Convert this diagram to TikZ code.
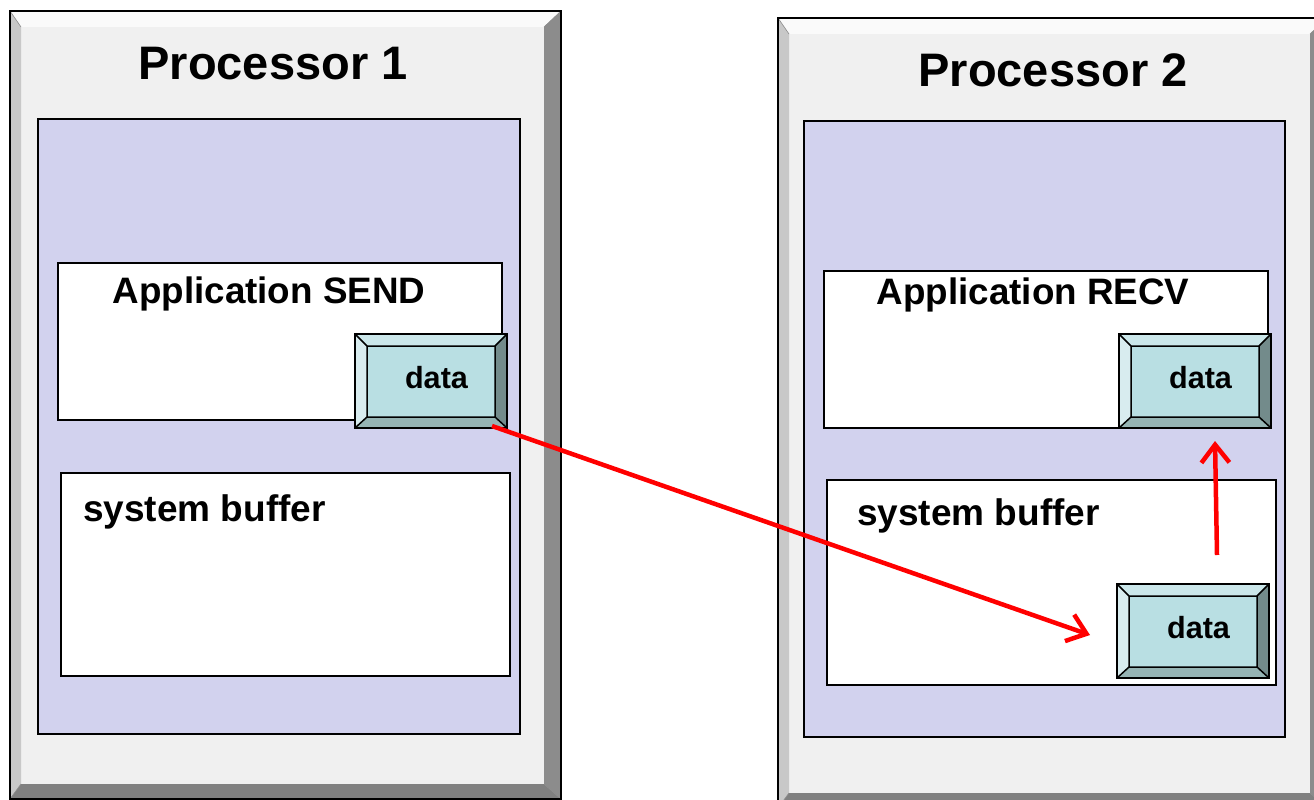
\documentclass[tikz,border=0pt]{standalone}
\usepackage{fontspec}
\setmainfont{Liberation Sans}
\usetikzlibrary{arrows.meta,calc}
\definecolor{pface}{RGB}{240,240,240}
\definecolor{ptop}{RGB}{250,250,250}
\definecolor{pleft}{RGB}{200,200,200}
\definecolor{pright}{RGB}{140,140,140}
\definecolor{pbottom}{RGB}{128,128,128}
\definecolor{lav}{RGB}{210,210,238}
\definecolor{dface}{RGB}{185,223,227}
\definecolor{dtop}{RGB}{203,231,234}
\definecolor{dleft}{RGB}{216,236,239}
\definecolor{dright}{RGB}{115,139,139}
\definecolor{dbottom}{RGB}{150,180,180}
\tikzset{
  boxbase/.style={inner sep=0pt, outer sep=0pt, anchor=north west},
  lavbox/.style={boxbase, fill=lav, draw=black, line width=2pt},
  whitebox/.style={boxbase, fill=white, draw=black, line width=1.5pt},
  titletext/.style={anchor=base, inner sep=0pt, font=\bfseries\fontsize{47}{47}\selectfont},
  labtext/.style={anchor=base, inner sep=0pt, font=\bfseries\fontsize{36.8}{37}\selectfont},
  bufftext/.style={anchor=base west, inner sep=0pt, font=\bfseries\fontsize{37}{37}\selectfont},
  datatext/.style={anchor=base, inner sep=0pt, font=\bfseries\fontsize{30.6}{31}\selectfont},
  redarrow/.style={draw=red, line width=4.5pt, -{Straight Barb[length=18pt,width=28pt,line width=4.5pt]}}
}
% processor box with bevel
\newcommand{\procbox}[5]{%
  \node[boxbase, fill=pface, minimum width={#4-#2}, minimum height={#5-#3}] (#1) at (#2,#3) {};
  \fill[ptop] (#2,#3) -- (#4,#3) -- ({#4-17},{#3+16}) -- ({#2+11},{#3+16}) -- cycle;
  \fill[pleft] (#2,#3) -- ({#2+11},{#3+16}) -- ({#2+11},{#5-15}) -- (#2,#5) -- cycle;
  \fill[pright] (#4,#3) -- (#4,#5) -- ({#4-17},{#5-15}) -- ({#4-17},{#3+16}) -- cycle;
  \fill[pbottom] (#2,#5) -- (#4,#5) -- ({#4-17},{#5-15}) -- ({#2+11},{#5-15}) -- cycle;
  \draw[black!45, line width=0.6pt] (#2,#3) -- ({#2+11},{#3+16}) (#4,#3) -- ({#4-17},{#3+16})
     (#2,#5) -- ({#2+11},{#5-15}) (#4,#5) -- ({#4-17},{#5-15});
  \draw[black, line width=2pt] (#1.north west) rectangle (#1.south east);
}
% data box with bevel
\newcommand{\databox}[5]{%
  \node[boxbase, fill=dface, minimum width={#4-#2}, minimum height={#5-#3}] (#1) at (#2,#3) {};
  \fill[dtop] (#2,#3) -- (#4,#3) -- ({#4-12},{#3+12}) -- ({#2+12},{#3+12}) -- cycle;
  \fill[dleft] (#2,#3) -- ({#2+12},{#3+12}) -- ({#2+12},{#5-11}) -- (#2,#5) -- cycle;
  \fill[dright] (#4,#3) -- (#4,#5) -- ({#4-12},{#5-11}) -- ({#4-12},{#3+12}) -- cycle;
  \fill[dbottom] (#2,#5) -- (#4,#5) -- ({#4-12},{#5-11}) -- ({#2+12},{#5-11}) -- cycle;
  \draw[black, line width=1.5pt] ({#2+12},{#3+12}) rectangle ({#4-12},{#5-11})
     (#2,#3) -- ({#2+12},{#3+12}) (#4,#3) -- ({#4-12},{#3+12})
     (#2,#5) -- ({#2+12},{#5-11}) (#4,#5) -- ({#4-12},{#5-11});
  \draw[black, line width=2pt] (#1.north west) rectangle (#1.south east);
  \node[datatext] (#1-t) at ($(#1.north)+(5.5,54)$) {data};
}
\begin{document}
\begin{tikzpicture}[x=1pt, y=-1pt]
\fill[white] (0,0) rectangle (1314,800);
\begin{scope}
\clip (0,0) rectangle (1314,800);
% Processor 1
\procbox{p1}{10}{11}{561}{799}
\node[titletext] (p1t) at (273,79) {Processor 1};
\node[lavbox, minimum width=482, minimum height=615] (m1) at (38,119) {};
\node[whitebox, minimum width=444, minimum height=157] (a1) at (58,263) {};
\node[labtext] (a1t) at (269,303) {Application SEND};
\node[whitebox, minimum width=449, minimum height=203] (s1) at (61,473) {};
\node[bufftext] (s1t) at (83,521) {system buffer};
\databox{d1}{355}{334}{507}{428}
% Processor 2
\procbox{p2}{778}{18}{1327}{808}
\node[titletext] (p2t) at (1053,86) {Processor 2};
\node[lavbox, minimum width=481, minimum height=616] (m2) at (804,121) {};
\node[whitebox, minimum width=444, minimum height=157] (a2) at (824,271) {};
\node[labtext] (a2t) at (1033,304) {Application RECV};
\node[whitebox, minimum width=449, minimum height=205] (s2) at (827,480) {};
\node[bufftext] (s2t) at (857,525) {system buffer};
\databox{d2}{1119}{334}{1271}{428}
\databox{d3}{1117}{584}{1269}{678}
% arrows
\coordinate (c1) at ($(d1.south east)+(-15,-2)$);
\coordinate (c2) at ($(d3.west)+(-27,4)$);
\coordinate (c3) at ($(d3.north)+(24,-29)$);
\coordinate (c4) at ($(d2.south)+(20,13)$);
\draw[redarrow] (c1) -- (c2);
\draw[redarrow] (c3) -- (c4);
\end{scope}
\pgfresetboundingbox
\path[use as bounding box] (0,0) rectangle (1314,800);
\end{tikzpicture}
\end{document}
